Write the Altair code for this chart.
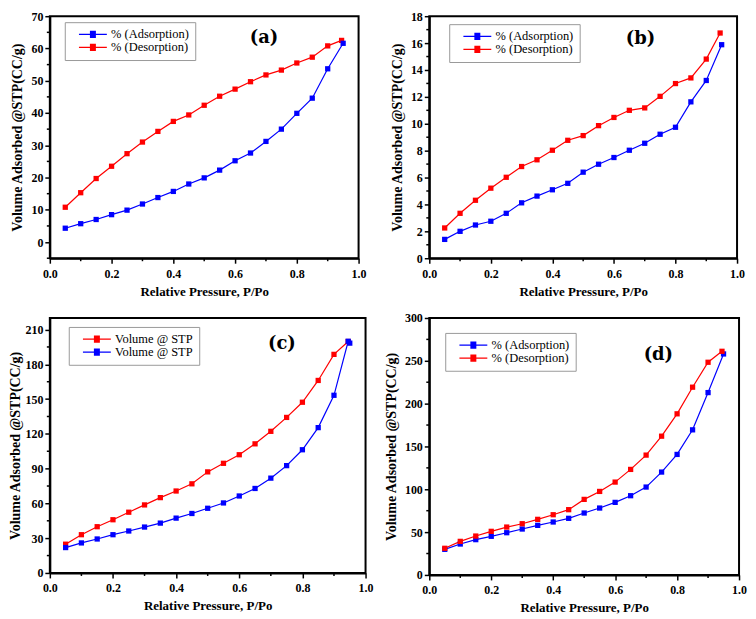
import altair as alt
import pandas as pd

FONT = "Liberation Serif"
BLUE = "#0000FF"
RED = "#FF0000"

# ---------------- data ----------------
p_ads = [0.05, 0.10, 0.15, 0.20, 0.25, 0.30, 0.35, 0.40, 0.45, 0.50,
         0.55, 0.60, 0.65, 0.70, 0.75, 0.80, 0.85, 0.90, 0.95]
p_des = [0.05, 0.10, 0.15, 0.20, 0.25, 0.30, 0.35, 0.40, 0.45, 0.50,
         0.55, 0.60, 0.65, 0.70, 0.75, 0.80, 0.85, 0.90, 0.945]
p_c_blue = p_ads + [0.945]

a_ads = [4.3, 5.7, 7.0, 8.5, 9.9, 11.8, 13.8, 15.7, 18.0, 19.9,
         22.3, 25.2, 27.6, 31.2, 35.0, 39.9, 44.6, 53.7, 61.6]
a_des = [10.8, 15.3, 19.7, 23.5, 27.4, 31.0, 34.3, 37.4, 39.4, 42.4,
         45.2, 47.4, 49.7, 51.8, 53.3, 55.5, 57.3, 60.8, 62.5]

b_ads = [1.40, 2.00, 2.47, 2.75, 3.34, 4.12, 4.62, 5.09, 5.57, 6.40,
         6.99, 7.49, 8.03, 8.55, 9.22, 9.74, 11.63, 13.22, 15.88]
b_des = [2.25, 3.34, 4.31, 5.21, 6.02, 6.82, 7.32, 8.03, 8.77, 9.12,
         9.86, 10.47, 11.00, 11.18, 12.04, 12.99, 13.41, 14.81, 16.75]

c_red = [24.8, 33.0, 39.9, 45.9, 52.4, 58.7, 65.0, 70.7, 76.9, 87.2,
         94.6, 102.0, 111.4, 122.2, 134.2, 147.3, 166.1, 188.6, 199.7]
c_blue = [21.9, 25.9, 29.3, 33.0, 36.2, 39.6, 43.0, 47.3, 51.3, 55.8,
          60.4, 66.4, 72.9, 81.8, 92.6, 106.3, 125.4, 153.3, 198.3, 199.9]

d_ads = [29.9, 36.1, 41.2, 45.1, 49.3, 53.6, 57.9, 61.8, 66.1, 72.3,
         78.1, 84.7, 92.5, 102.6, 120.1, 140.7, 169.4, 212.9, 258.0]
d_des = [31.1, 39.2, 45.4, 50.9, 55.9, 59.8, 64.9, 70.3, 76.2, 88.2,
         97.5, 108.4, 123.2, 139.9, 162.0, 188.1, 219.2, 248.3, 261.1]

# major (labelled) and minor tick values
x_major = [0.0, 0.2, 0.4, 0.6, 0.8, 1.0]
x_minor = [0.1, 0.3, 0.5, 0.7, 0.9]
a_major = [0, 10, 20, 30, 40, 50, 60, 70]
a_minor = [-5, 5, 15, 25, 35, 45, 55, 65]
b_major = [0, 2, 4, 6, 8, 10, 12, 14, 16, 18]
b_minor = [1, 3, 5, 7, 9, 11, 13, 15, 17]
c_major = [0, 30, 60, 90, 120, 150, 180, 210]
c_minor = [15, 45, 75, 105, 135, 165, 195]
d_major = [0, 50, 100, 150, 200, 250, 300]
d_minor = [25, 75, 125, 175, 225, 275]

ADS = "% (Adsorption)"
DES = "% (Desorption)"
STP = "Volume @ STP"

# legend symbol: line with a filled square (square drawn by dense strokes)
SYMBOL = "M0.5,0H7.5" + "".join(
    "M3.25,%gH4.75" % v for v in [-0.75, -0.5, -0.25, 0, 0.25, 0.5, 0.75])


def make_df(series):
    rows = []
    for key, xs, ys in series:
        for x, y in zip(xs, ys):
            rows.append({"s": key, "x": x, "y": y})
    return pd.DataFrame(rows)


def panel(df, keys, colors, label_expr, ydom, ymaj, ymin, tag,
          w, h, lx, ly, tx, ty, ytitle_pad=6):
    cscale = alt.Scale(domain=keys, range=colors)
    xenc = alt.X(
        "x:Q",
        scale=alt.Scale(domain=[0, 1], nice=False, zero=False),
        axis=alt.Axis(
            values=x_major, format=".1f", tickSize=5, tickCount=100,
            title="Relative Pressure, P/Po",
            labelFlush=False, labelOverlap=False,
            labelPadding=5, titlePadding=6, titleFontSize=13,
        ),
    )
    yenc = alt.Y(
        "y:Q",
        scale=alt.Scale(domain=ydom, nice=False, zero=False),
        axis=alt.Axis(
            values=ymaj, format="d", tickSize=5, tickCount=100,
            title="Volume Adsorbed @STP(CC/g)",
            labelOverlap=False, labelFlush=False,
            labelPadding=2, titlePadding=ytitle_pad, titleFontSize=14,
        ),
    )
    base = alt.Chart(df)
    line = base.mark_line(strokeWidth=1.2).encode(
        x=xenc, y=yenc,
        color=alt.Color(
            "s:N", scale=cscale,
            legend=alt.Legend(
                title=None, orient="none", legendX=lx, legendY=ly,
                symbolType=SYMBOL, symbolSize=64, symbolStrokeWidth=1.2,
                labelFont=FONT, labelFontSize=12.5, labelFontWeight="normal",
                labelOffset=28, padding=6, rowPadding=0,
                strokeColor="#999999", fillColor="white",
                labelExpr=label_expr, labelColor="black",
            ),
        ),
    )
    pts = base.mark_point(shape="square", filled=True, size=28, opacity=1).encode(
        x="x:Q", y="y:Q",
        color=alt.Color("s:N", scale=cscale, legend=None),
    )
    xmin_rules = alt.Chart(pd.DataFrame({"v": x_minor})).mark_rule(
        color="black", strokeWidth=1.5
    ).encode(x="v:Q", y=alt.value(h), y2=alt.value(h + 3))
    ymin_rules = alt.Chart(pd.DataFrame({"v": ymin})).mark_rule(
        color="black", strokeWidth=1.5
    ).encode(y="v:Q", x=alt.value(0), x2=alt.value(-3))
    txt = alt.Chart(pd.DataFrame({"t": [tag]})).mark_text(
        font="DejaVu Serif", fontWeight="bold", fontSize=18, color="black",
        align="center", baseline="middle",
    ).encode(text="t:N", x=alt.value(tx), y=alt.value(ty))
    return alt.layer(line, pts, xmin_rules, ymin_rules, txt).properties(
        width=w, height=h)


df_a = make_df([("des", p_des, a_des), ("ads", p_ads, a_ads)])
df_b = make_df([("des", p_des, b_des), ("ads", p_ads, b_ads)])
df_c = make_df([("red", p_des, c_red), ("blue", p_c_blue, c_blue)])
df_d = make_df([("ads", p_ads, d_ads), ("des", p_des, d_des)])

ab_expr = "datum.value == 'ads' ? '%s' : '%s'" % (ADS, DES)
c_expr = "'%s'" % STP

pa = panel(df_a, ["ads", "des"], [BLUE, RED], ab_expr, [-5, 70], a_major, a_minor,
           "(a)", 310, 243, 15, 6, 215, 22)
pb = panel(df_b, ["ads", "des"], [BLUE, RED], ab_expr, [0, 18], b_major, b_minor,
           "(b)", 309, 243, 20, 8, 212, 23)
pc = panel(df_c, ["red", "blue"], [RED, BLUE], c_expr, [0, 220], c_major, c_minor,
           "(c)", 317, 256, 19, 9, 233, 26, ytitle_pad=2)
pd_ = panel(df_d, ["ads", "des"], [BLUE, RED], ab_expr, [0, 300], d_major, d_minor,
            "(d)", 311, 258, 16, 15, 230, 37)

row1 = alt.hconcat(pa, pb, spacing=71, bounds="flush").resolve_scale(
    color="independent").resolve_legend(color="independent")
row2 = alt.hconcat(pc, pd_, spacing=64, bounds="flush").resolve_scale(
    color="independent").resolve_legend(color="independent")

chart = alt.vconcat(row1, row2, spacing=12).resolve_scale(
    color="independent").resolve_legend(color="independent").properties(
    padding={"left": 0, "top": 0, "right": 0, "bottom": 0}
).configure_view(
    stroke="black", strokeWidth=2
).configure_axis(
    labelFont=FONT, labelFontWeight="bold", labelFontSize=12, labelColor="black",
    titleFont=FONT, titleFontWeight="bold", titleFontSize=13, titleColor="black",
    domainColor="black", domainWidth=2, tickColor="black", tickWidth=1.5,
    grid=False, labelOverlap=False,
)

chart.save("out.html", embed_options={"renderer": "svg", "actions": False})
